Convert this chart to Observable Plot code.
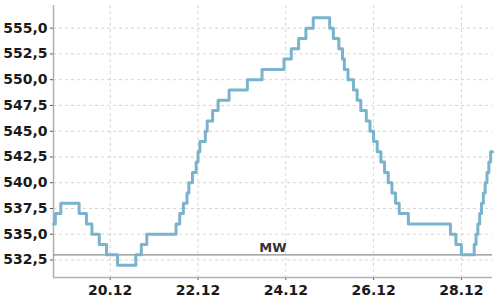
<!DOCTYPE html>
<html>
<head>
<meta charset="utf-8">
<script src="https://cdn.jsdelivr.net/npm/d3@7"></script>
<script src="https://cdn.jsdelivr.net/npm/@observablehq/plot@0.6"></script>
<style>
  html, body { margin: 0; padding: 0; background: #fff; }
  #chart svg { display: block; }
</style>
</head>
<body>
<div id="chart"></div>
<script>
// Change points of the stepped series (local time) and the value from that moment on
const times = [
  "2023-12-18T17:00", "2023-12-18T18:00", "2023-12-18T21:00", "2023-12-19T07:00",
  "2023-12-19T11:00", "2023-12-19T14:00", "2023-12-19T18:00", "2023-12-19T22:00",
  "2023-12-20T04:00", "2023-12-20T14:00", "2023-12-20T17:00", "2023-12-20T20:00",
  "2023-12-21T12:00", "2023-12-21T14:00", "2023-12-21T16:00", "2023-12-21T18:00",
  "2023-12-21T19:00", "2023-12-21T21:00", "2023-12-21T23:00", "2023-12-22T00:00",
  "2023-12-22T01:00", "2023-12-22T04:00", "2023-12-22T05:00", "2023-12-22T08:00",
  "2023-12-22T11:00", "2023-12-22T17:00", "2023-12-23T03:00", "2023-12-23T11:00",
  "2023-12-23T23:00", "2023-12-24T03:00", "2023-12-24T07:00", "2023-12-24T11:00",
  "2023-12-24T15:00", "2023-12-25T00:00", "2023-12-25T02:00", "2023-12-25T05:00",
  "2023-12-25T07:00", "2023-12-25T08:00", "2023-12-25T10:00", "2023-12-25T13:00",
  "2023-12-25T15:00", "2023-12-25T17:00", "2023-12-25T20:00", "2023-12-25T22:00",
  "2023-12-26T00:00", "2023-12-26T02:00", "2023-12-26T04:00", "2023-12-26T06:00",
  "2023-12-26T08:00", "2023-12-26T10:00", "2023-12-26T12:00", "2023-12-26T14:00",
  "2023-12-26T19:00", "2023-12-27T18:00", "2023-12-27T21:00", "2023-12-28T00:00",
  "2023-12-28T07:00", "2023-12-28T08:00", "2023-12-28T09:00", "2023-12-28T10:00",
  "2023-12-28T11:00", "2023-12-28T12:00", "2023-12-28T13:00", "2023-12-28T14:00",
  "2023-12-28T15:00", "2023-12-28T16:00", "2023-12-28T17:00"
];
const values = [
  536, 537, 538, 537,
  536, 535, 534, 533,
  532, 533, 534, 535,
  536, 537, 538, 539,
  540, 541, 542, 543,
  544, 545, 546, 547,
  548, 549, 550, 551,
  552, 553, 554, 555,
  556, 555, 554, 553,
  552, 551, 550, 549,
  548, 547, 546, 545,
  544, 543, 542, 541,
  540, 539, 538, 537,
  536, 535, 534, 533,
  534, 535, 536, 537,
  538, 539, 540, 541,
  542, 543, 543
];
const xTickDates = ["2023-12-20T00:00", "2023-12-22T00:00", "2023-12-24T00:00", "2023-12-26T00:00", "2023-12-28T00:00"];
const yTicks = [532.5, 535, 537.5, 540, 542.5, 545, 547.5, 550, 552.5, 555];
const xDomain = ["2023-12-18T17:00", "2023-12-28T17:00"];
const yDomain = [530.8, 557.2];
const refLevel = 533;
const refLabel = "MW";
const refLabelTime = "2023-12-23T17:00";

const data = times.map((t, i) => ({time: new Date(t), value: values[i]}));
const xTicks = xTickDates.map(d => new Date(d));
const xDom = xDomain.map(d => new Date(d));
const fmtY = d => d.toFixed(1).replace(".", ",");
const fmtX = d3.timeFormat("%d.%m");

const gridStyle = {stroke: "#d4d4d4", strokeOpacity: 1, strokeDasharray: "3,3"};

const chart = Plot.plot({
  width: 500,
  height: 300,
  marginLeft: 53,
  marginRight: 8,
  marginTop: 5,
  marginBottom: 23,
  style: {fontFamily: "DejaVu Sans", fontSize: "14px", fontWeight: "bold", color: "#1a1a1a", background: "#fff"},
  x: {type: "time", domain: xDom},
  y: {domain: yDomain},
  marks: [
    Plot.gridY(yTicks, gridStyle),
    Plot.gridX(xTicks, gridStyle),
    Plot.axisY(yTicks, {tickFormat: fmtY, tickSize: 3, tickPadding: 3, stroke: "#555", label: null, fontSize: 14}),
    Plot.axisX(xTicks, {tickFormat: fmtX, tickSize: 3, tickPadding: 5, stroke: "#555", label: null, fontSize: 14}),
    Plot.ruleX([xDom[0]], {stroke: "#b0b0b0", strokeWidth: 1.5}),
    Plot.ruleY([yDomain[0]], {stroke: "#b0b0b0", strokeWidth: 1.5}),
    Plot.ruleY([refLevel], {stroke: "#8c8c8c", strokeWidth: 1.2}),
    Plot.text([refLabel], {x: () => new Date(refLabelTime), y: () => refLevel, text: d => d, lineAnchor: "bottom", dy: -3, fill: "#333", fontSize: 13, fontWeight: "bold"}),
    Plot.line(data, {x: "time", y: "value", curve: "step-after", stroke: "#79b3cc", strokeWidth: 3})
  ]
});
document.getElementById("chart").appendChild(chart);
</script>
</body>
</html>
